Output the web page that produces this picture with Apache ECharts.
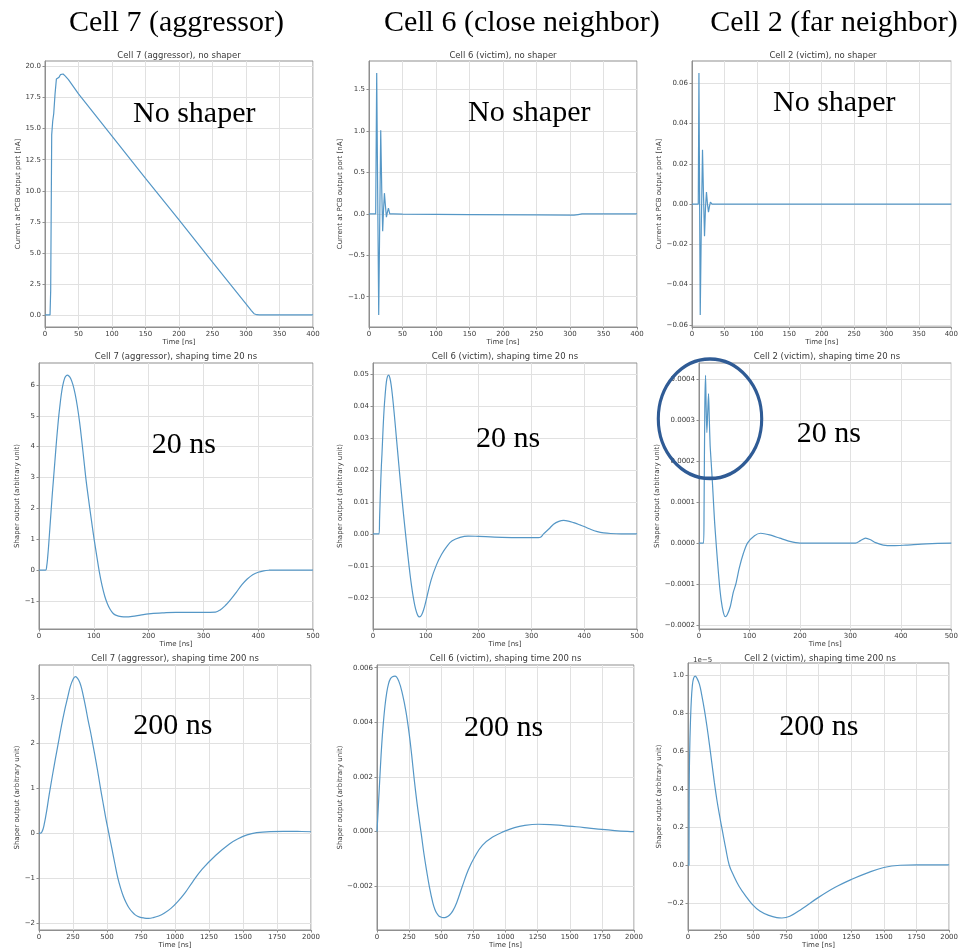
<!DOCTYPE html>
<html><head><meta charset="utf-8">
<script src="https://cdn.jsdelivr.net/npm/echarts@6/dist/echarts.min.js"></script>
<style>html,body{margin:0;padding:0;background:#fff}#c{width:961px;height:952px}</style>
</head><body><div id="c"></div>
<script>
// ---------------- DATA ----------------
const columnHeaders = ['Cell 7 (aggressor)', 'Cell 6 (close neighbor)', 'Cell 2 (far neighbor)'];
const panelTitles = [
  'Cell 7 (aggressor), no shaper', 'Cell 6 (victim), no shaper', 'Cell 2 (victim), no shaper',
  'Cell 7 (aggressor), shaping time 20 ns', 'Cell 6 (victim), shaping time 20 ns', 'Cell 2 (victim), shaping time 20 ns',
  'Cell 7 (aggressor), shaping time 200 ns', 'Cell 6 (victim), shaping time 200 ns', 'Cell 2 (victim), shaping time 200 ns'
];
const annotationTexts = ['No shaper', 'No shaper', 'No shaper', '20 ns', '20 ns', '20 ns', '200 ns', '200 ns', '200 ns'];
const xAxisName = 'Time [ns]';
const yAxisNameRaw = 'Current at PCB output port [nA]';
const yAxisNameShaper = 'Shaper output (arbitrary unit)';
const offsetText9 = '1e\u22125';

// x tick labels
const xTicksNoShaper = [0, 50, 100, 150, 200, 250, 300, 350, 400];
const xTicks20 = [0, 100, 200, 300, 400, 500];
const xTicks200 = [0, 250, 500, 750, 1000, 1250, 1500, 1750, 2000];

// y tick labels
const yTicks1 = [0, 2.5, 5, 7.5, 10, 12.5, 15, 17.5, 20];
const yTicks2 = [-1.0, -0.5, 0, 0.5, 1.0, 1.5];
const yTicks3 = [-0.06, -0.04, -0.02, 0, 0.02, 0.04, 0.06];
const yTicks4 = [-1, 0, 1, 2, 3, 4, 5, 6];
const yTicks5 = [-0.02, -0.01, 0, 0.01, 0.02, 0.03, 0.04, 0.05];
const yTicks6 = [-0.0002, -0.0001, 0, 0.0001, 0.0002, 0.0003, 0.0004];
const yTicks7 = [-2, -1, 0, 1, 2, 3];
const yTicks8 = [-0.002, 0, 0.002, 0.004, 0.006];
const yTicks9 = [-0.2, 0, 0.2, 0.4, 0.6, 0.8, 1.0];

// series: [time ns, value]
const cell7NoShaper = [[0,0],[7.5,0],[8.5,2],[10,14.5],[11.5,15.6],[13,16.2],[15,17.8],[17,19.0],[19,19.1],[21,19.15],[23,19.35],[25,19.45],[27,19.4],[30,19.25],[35,18.95],[50,17.8],[100,14.4],[150,11.0],[200,7.65],[250,4.25],[300,0.9],[308,0.35],[312,0.1],[316,0.02],[320,0],[400,0]];
const cell6NoShaper = [[0,0],[10,0],[11.5,1.70],[13,0.2],[14.5,-1.22],[16,-0.1],[17.5,1.01],[19,0.3],[20.4,-0.21],[21.7,0.05],[23,0.25],[24.5,0.1],[26,-0.04],[27.5,0.02],[29,0.07],[31,0.0],[33,0.015],[36,0.0],[50,-0.003],[150,-0.008],[250,-0.012],[300,-0.015],[306,-0.016],[312,-0.008],[318,0],[400,0]];
const cell2NoShaper = [[0,0],[9.7,0],[10.7,0.065],[11.7,0.005],[12.7,-0.055],[14.4,-0.01],[16.2,0.027],[17.7,0.005],[19.3,-0.016],[20.8,-0.002],[22.3,0.006],[23.9,0.0],[25.4,-0.004],[27,-0.001],[28.4,0.001],[31,0],[400,0]];
const cell7Shaper20 = [[0,0],[12,0],[14,0.12],[16,0.45],[18,0.9],[20,1.4],[22,1.9],[24,2.4],[26,2.85],[28,3.3],[30,3.75],[32,4.2],[34,4.6],[36,4.98],[38,5.3],[40,5.6],[42,5.85],[44,6.03],[46,6.17],[48,6.26],[51.5,6.32],[55,6.28],[58,6.2],[62,6.0],[66,5.7],[70,5.3],[74,4.8],[78,4.2],[82,3.55],[86,2.9],[90,2.35],[95,1.7],[100,1.07],[105,0.5],[110,-0.05],[115,-0.5],[120,-0.85],[125,-1.1],[130,-1.28],[135,-1.4],[140,-1.46],[150,-1.51],[160,-1.52],[170,-1.5],[185,-1.46],[200,-1.42],[225,-1.39],[250,-1.37],[300,-1.37],[322,-1.36],[330,-1.3],[340,-1.15],[350,-0.95],[360,-0.72],[370,-0.48],[380,-0.29],[390,-0.15],[400,-0.07],[410,-0.025],[420,-0.005],[430,0],[500,0]];
const cell6Shaper20 = [[0,0],[11.4,0],[12.5,0.005],[14,0.013],[15.8,0.021],[17,0.025],[19,0.0326],[21,0.039],[23,0.0435],[25.3,0.0475],[27.5,0.0493],[29.7,0.0497],[32,0.0488],[34.5,0.0465],[37,0.043],[40,0.038],[43,0.0325],[46,0.027],[49,0.0215],[52,0.016],[55,0.0108],[58,0.0058],[61,0.001],[64,-0.0037],[67,-0.0082],[70,-0.0125],[73,-0.0163],[76,-0.0196],[79,-0.0223],[82,-0.0243],[85,-0.0256],[88,-0.026],[92,-0.0254],[96,-0.0237],[100,-0.0212],[110,-0.0145],[120,-0.0098],[130,-0.0064],[140,-0.0039],[150,-0.0022],[165,-0.0011],[180,-0.0007],[200,-0.0008],[230,-0.0010],[278,-0.0012],[313,-0.0012],[318,-0.001],[323,0.0],[333,0.0015],[342,0.0030],[352,0.0039],[361,0.0042],[370,0.0040],[380,0.0035],[392,0.0028],[400,0.0023],[411,0.0015],[425,0.0007],[437,0.0003],[450,0.0001],[470,0],[500,0]];
const cell2Shaper20 = [[0,0],[9,0],[10,0.00008],[11.5,0.00033],[13,0.00041],[14.2,0.00033],[15.6,0.00027],[17.3,0.00032],[18.9,0.000365],[20.5,0.00030],[22,0.00024],[24,0.00020],[26.5,0.00015],[28.7,0.00010],[31,0.00005],[33.9,0],[37,-0.00005],[40.4,-0.00010],[44,-0.00014],[48,-0.000168],[52,-0.00018],[56,-0.000175],[62,-0.000155],[68,-0.00012],[73,-0.00010],[80,-0.00006],[88,-0.000025],[96,0],[110,0.000018],[122,0.000024],[140,0.00002],[160,0.000012],[180,0.000004],[200,0],[310,0],[320,0.000006],[330,0.000012],[340,0.000008],[350,0.000001],[365,-0.000005],[385,-0.0000065],[410,-0.000005],[450,-0.000002],[500,0]];
const cell7Shaper200 = [[0,0],[12,0],[20,0.02],[30,0.09],[40,0.22],[50,0.38],[60,0.56],[70,0.76],[83,1.0],[100,1.3],[120,1.64],[142,2.0],[165,2.38],[188,2.72],[210,3.0],[230,3.25],[250,3.41],[268,3.47],[285,3.43],[300,3.34],[315,3.19],[329,3.0],[345,2.76],[360,2.52],[378,2.26],[394,2.0],[410,1.74],[430,1.4],[452,1.0],[470,0.69],[490,0.35],[513,0.0],[535,-0.33],[558,-0.68],[580,-1.0],[600,-1.22],[620,-1.4],[640,-1.54],[660,-1.65],[685,-1.75],[710,-1.82],[740,-1.865],[775,-1.885],[805,-1.89],[840,-1.875],[880,-1.84],[920,-1.78],[970,-1.67],[1020,-1.52],[1075,-1.32],[1130,-1.08],[1200,-0.8],[1300,-0.49],[1400,-0.24],[1460,-0.13],[1530,-0.04],[1600,0.01],[1700,0.035],[1800,0.04],[1900,0.037],[2000,0.03]];
const cell6Shaper200 = [[0,0],[5,0.00045],[10,0.0009],[18,0.0016],[27,0.0024],[37,0.0032],[48,0.0039],[62,0.0046],[76,0.0051],[90,0.00542],[105,0.0056],[120,0.00567],[140,0.00569],[170,0.0055],[200,0.0050],[225,0.0044],[250,0.0036],[270,0.0028],[290,0.0019],[310,0.0011],[330,0.0004],[345,-0.0001],[365,-0.0008],[385,-0.0014],[407,-0.0020],[435,-0.00262],[450,-0.00284],[464,-0.00298],[480,-0.00308],[490,-0.00311],[515,-0.00315],[540,-0.00313],[565,-0.00305],[590,-0.0029],[620,-0.0026],[664,-0.0020],[710,-0.0014],[763,-0.0009],[820,-0.0005],[900,-0.0002],[985,0.0],[1070,0.00015],[1150,0.00023],[1255,0.00027],[1350,0.00026],[1450,0.00022],[1550,0.00018],[1650,0.00013],[1750,0.00008],[1850,0.00004],[1950,0.00001],[2000,0.0]];
// values in units of 1e-5
const cell2Shaper200 = [[0,0],[7.6,0],[8.5,0.3],[10,0.47],[13,0.6],[17.7,0.73],[25,0.86],[32.8,0.94],[42,0.98],[55,0.993],[70,0.98],[88,0.95],[105,0.895],[126,0.815],[145,0.73],[164,0.635],[183,0.535],[202,0.435],[222,0.34],[242,0.26],[265,0.175],[290,0.085],[316,0.0],[350,-0.055],[391,-0.11],[440,-0.16],[492,-0.205],[550,-0.24],[619,-0.263],[680,-0.275],[720,-0.277],[780,-0.268],[871,-0.23],[997,-0.17],[1124,-0.117],[1250,-0.075],[1375,-0.04],[1500,-0.012],[1625,0.0],[1750,0.002],[2000,0.002]];

// ---------------- LAYOUT ----------------
const seriesData = [cell7NoShaper, cell6NoShaper, cell2NoShaper, cell7Shaper20, cell6Shaper20, cell2Shaper20, cell7Shaper200, cell6Shaper200, cell2Shaper200];
const yTickSets = [yTicks1, yTicks2, yTicks3, yTicks4, yTicks5, yTicks6, yTicks7, yTicks8, yTicks9];
const xTickSets = [xTicksNoShaper, xTicksNoShaper, xTicksNoShaper, xTicks20, xTicks20, xTicks20, xTicks200, xTicks200, xTicks200];
const layout = [
  {l:45, t:61, w:268, h:266, ymin:-0.97, ymax:20.45, dec:1, gap:20, ax:133, ay:113.7, smooth:0},
  {l:369, t:61, w:268, h:266, ymin:-1.366, ymax:1.846, dec:1, gap:21, ax:468, ay:112.7, smooth:0},
  {l:692, t:61, w:262, h:266, ymin:-0.061, ymax:0.071, dec:2, gap:26, ax:773, ay:102.7, smooth:0},
  {l:39, t:363, w:274, h:266, ymin:-1.91, ymax:6.71, dec:0, gap:14, ax:151.7, ay:445, smooth:0.4},
  {l:373, t:363, w:264, h:266, ymin:-0.0298, ymax:0.0535, dec:2, gap:25, ax:476, ay:439.3, smooth:0.4},
  {l:699, t:363, w:256, h:266, ymin:-0.00021, ymax:0.00044, dec:4, gap:33, ax:796.7, ay:433.7, smooth:0.25},
  {l:39, t:665, w:272, h:265, ymin:-2.15, ymax:3.73, dec:0, gap:14, ax:133.3, ay:726, smooth:0.4},
  {l:377, t:665, w:257, h:265, ymin:-0.0036, ymax:0.0061, dec:3, gap:29, ax:464, ay:727.7, smooth:0.4},
  {l:688, t:663, w:264, h:267, ymin:-0.34, ymax:1.062, dec:1, gap:22, ax:779.3, ay:727, smooth:0.4}
];
const xMax = [400, 400, 400, 500, 500, 500, 2000, 2000, 2000];
const titleY = [56, 56, 56, 357, 357, 357, 659, 659, 659];
const headerX = [176.5, 521.8, 834];

const LINE = '#5597c6', SPINE = '#8f8f8f', GRID = '#e1e1e1', TXT = '#3a3a3a';
const SANS = 'DejaVu Sans', SERIF = 'Liberation Serif';

function fmt(dec) {
  return function (v) {
    const s = Math.abs(v).toFixed(dec);
    return (v < -1e-12 ? '\u2212' : '') + s;
  };
}

const grids = [], xAxes = [], yAxes = [], series = [], graphics = [];
layout.forEach((p, i) => {
  grids.push({left: p.l, top: p.t, width: p.w, height: p.h, show: true, borderColor: SPINE, borderWidth: 1, backgroundColor: 'transparent', containLabel: false});
  xAxes.push({
    type: 'value', gridIndex: i, min: 0, max: xMax[i],
    name: xAxisName, nameLocation: 'middle', nameGap: 12,
    nameTextStyle: {fontFamily: SANS, fontSize: 7, color: TXT},
    axisLine: {show: true, onZero: false, lineStyle: {color: SPINE, width: 1}},
    axisTick: {show: true, length: 2.5, customValues: xTickSets[i], lineStyle: {color: SPINE}},
    axisLabel: {customValues: xTickSets[i], fontFamily: SANS, fontSize: 7, color: TXT, margin: 3.5, formatter: v => String(v)},
    splitLine: {show: true, lineStyle: {color: GRID, width: 1}}
  });
  yAxes.push({
    type: 'value', gridIndex: i, min: p.ymin, max: p.ymax,
    name: i < 3 ? yAxisNameRaw : yAxisNameShaper, nameLocation: 'middle', nameGap: p.gap, nameRotate: 90,
    nameTextStyle: {fontFamily: SANS, fontSize: 7, color: TXT},
    axisLine: {show: true, onZero: false, lineStyle: {color: SPINE, width: 1}},
    axisTick: {show: true, length: 2.5, customValues: yTickSets[i], lineStyle: {color: SPINE}},
    axisLabel: {customValues: yTickSets[i], fontFamily: SANS, fontSize: 7, color: TXT, margin: 4, formatter: fmt(p.dec)},
    splitLine: {show: true, lineStyle: {color: GRID, width: 1}}
  });
  series.push({
    type: 'line', xAxisIndex: i, yAxisIndex: i, data: seriesData[i],
    showSymbol: false, symbol: 'none', smooth: p.smooth,
    lineStyle: {color: LINE, width: 1.2}, clip: true, silent: true
  });
  graphics.push({type: 'text', x: p.l + p.w / 2, y: titleY[i], z: 50,
    style: {text: panelTitles[i], fontFamily: SANS, fontSize: 8.5, fill: TXT, textAlign: 'center', textVerticalAlign: 'middle', verticalAlign: 'middle'}});
  graphics.push({type: 'text', x: p.ax, y: p.ay, z: 50,
    style: {text: annotationTexts[i], fontFamily: SERIF, fontSize: 30, fill: '#000', textAlign: 'left', textVerticalAlign: 'middle', verticalAlign: 'middle'}});
});
columnHeaders.forEach((h, k) => {
  graphics.push({type: 'text', x: headerX[k], y: 23.3, z: 50,
    style: {text: h, fontFamily: SERIF, fontSize: 30, fill: '#000', textAlign: 'center', textVerticalAlign: 'middle', verticalAlign: 'middle'}});
});
graphics.push({type: 'text', x: 693, y: 660.5, z: 50,
  style: {text: offsetText9, fontFamily: SANS, fontSize: 7, fill: TXT, textAlign: 'left', textVerticalAlign: 'middle', verticalAlign: 'middle'}});
graphics.push({type: 'circle', x: 710, y: 418.7, scaleX: 51.7 / 59.7, scaleY: 1, z: 100,
  shape: {cx: 0, cy: 0, r: 59.7}, style: {fill: 'none', stroke: '#2f5b95', lineWidth: 3.6}});

const chart = echarts.init(document.getElementById('c'), null, {renderer: 'canvas'});
chart.setOption({
  animation: false, backgroundColor: '#fff',
  grid: grids, xAxis: xAxes, yAxis: yAxes, series: series, graphic: graphics
});
</script></body></html>
